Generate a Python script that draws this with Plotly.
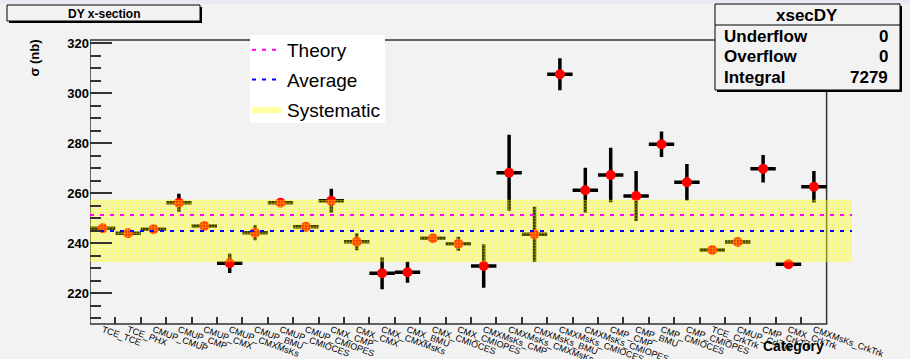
import plotly.graph_objects as go

# ---------------- data ----------------
categories = [
    "TCE_TCE", "TCE_PHX",
    "CMUP_CMUP", "CMUP_CMP", "CMUP_CMX", "CMUP_CMXMsKs", "CMUP_BMU", "CMUP_CMIOCES", "CMUP_CMIOPES",
    "CMX_CMP", "CMX_CMX", "CMX_CMXMsKs", "CMX_BMU", "CMX_CMIOCES", "CMX_CMIOPES",
    "CMXMsKs_CMP", "CMXMsKs_CMXMsKs", "CMXMsKs_BMU", "CMXMsKs_CMIOCES", "CMXMsKs_CMIOPES",
    "CMP_CMP", "CMP_BMU", "CMP_CMIOCES", "CMP_CMIOPES",
    "TCE_CrkTrk", "CMUP_CrkTrk", "CMP_CrkTrk", "CMX_CrkTrk", "CMXMsKs_CrkTrk",
]
xsec = [246.0, 244.0, 245.6, 256.2, 246.9, 232.0, 244.2, 256.2, 246.6,
        257.0, 240.6, 228.0, 228.4, 242.0, 239.8,
        230.9, 268.2, 243.6, 307.6, 261.2,
        267.3, 258.9, 279.6, 264.4,
        237.3, 240.5, 269.8, 231.6, 262.6]
xsec_err = [1.2, 1.2, 1.2, 3.6, 1.5, 3.9, 3.0, 1.5, 1.8,
            4.8, 3.4, 6.4, 4.2, 1.5, 2.8,
            8.7, 15.2, 11.0, 6.4, 9.0,
            10.9, 10.0, 5.1, 7.3,
            1.2, 1.2, 5.5, 1.5, 6.3]
theory = 251.3
average = 244.9
systematic = 12.5
stats_rows = [("Underflow", "0"), ("Overflow", "0"), ("Integral", "7279")]

# ---------------- geometry helpers (pixels -> paper) ----------------
W, H = 910, 359
ML, MR, MT, MB = 90, 58, 40, 35
PW, PH = W - ML - MR, H - MT - MB


def px(x):
    return (x - ML) / PW


def py(y):
    return (H - MB - y) / PH


n = len(categories)
xpos = list(range(n))
x_lo, x_hi = -0.5, n + 0.5
FONT = "Liberation Sans, Arial, Helvetica, sans-serif"
BG = "#f2f2f2"
FRAME = "#333333"

fig = go.Figure()

# data points
fig.add_trace(go.Scatter(
    x=xpos, y=xsec, mode="markers", showlegend=False,
    marker=dict(color="#ff0000", size=10, line=dict(width=0)),
    error_y=dict(type="data", array=xsec_err, color="black", thickness=3.5, width=0),
    error_x=dict(type="constant", value=0.5, color="black", thickness=3.5, width=0),
))

# systematic band
lo, hi = average - systematic, average + systematic
fig.add_trace(go.Scatter(
    x=[x_lo, x_hi, x_hi, x_lo, x_lo], y=[lo, lo, hi, hi, lo],
    mode="lines", fill="toself", name="Systematic", legendgroup="c", legendrank=3,
    line=dict(width=0, color="rgba(0,0,0,0)"),
    fillcolor="rgba(0,0,0,0)",
    fillpattern=dict(shape=".", fgcolor="#ffff00", bgcolor="rgba(0,0,0,0)",
                     size=3, solidity=0.75),
))

# theory / average lines
fig.add_trace(go.Scatter(
    x=[x_lo, x_hi], y=[theory, theory], mode="lines", name="Theory", legendgroup="a", legendrank=1,
    line=dict(color="#ff00ff", width=2, dash="4px,6px"),
))
fig.add_trace(go.Scatter(
    x=[x_lo, x_hi], y=[average, average], mode="lines", name="Average", legendgroup="b", legendrank=2,
    line=dict(color="#0000ff", width=2, dash="4px,6px"),
))

shapes = []
# frame
shapes.append(dict(type="rect", xref="x", yref="paper", x0=-0.5, x1=n - 0.5, y0=0, y1=1,
                   line=dict(color=FRAME, width=1.5), layer="below"))
# legend background
shapes.append(dict(type="rect", xref="paper", yref="paper", x0=px(250), x1=px(385), y0=py(35), y1=py(123),
                   fillcolor="white", line=dict(width=0), layer="above"))
# top strip
shapes.append(dict(type="rect", xref="paper", yref="paper", x0=px(0), x1=px(W), y0=py(0), y1=py(4),
                   fillcolor="#e9e9f3", line=dict(width=0), layer="above"))


def boxed(x0, y0, x1, y1, shadow=2):
    out = []
    out.append(dict(type="rect", xref="paper", yref="paper", x0=px(x0 + shadow), x1=px(x1 + shadow),
                    y0=py(y0 + shadow), y1=py(y1 + shadow), fillcolor="black", line=dict(width=0)))
    out.append(dict(type="rect", xref="paper", yref="paper", x0=px(x0), x1=px(x1),
                    y0=py(y0), y1=py(y1), fillcolor=BG, line=dict(color="black", width=1)))
    return out


# title box
shapes += boxed(7, 5, 200, 21)
# stats box
shapes += boxed(715, 4, 900, 90)
shapes.append(dict(type="line", xref="paper", yref="paper", x0=px(715), x1=px(900), y0=py(25), y1=py(25),
                   line=dict(color="black", width=1)))

annotations = [
    dict(text="<b>DY x-section</b>", x=px(103.5), y=py(13.5), xref="paper", yref="paper",
         showarrow=False, xanchor="center", yanchor="middle",
         font=dict(family=FONT, size=12, color="black")),
    dict(text="<b>xsecDY</b>", x=px(807), y=py(15), xref="paper", yref="paper",
         showarrow=False, xanchor="center", yanchor="middle",
         font=dict(family=FONT, size=17, color="black")),
    dict(text="<b>σ (nb)</b>", x=px(33.5), y=py(58), xref="paper", yref="paper", textangle=-90,
         showarrow=False, xanchor="center", yanchor="middle",
         font=dict(family=FONT, size=13, color="black")),
    dict(text="<b>Category</b>", x=px(826), y=py(346), xref="paper", yref="paper",
         showarrow=False, xanchor="right", yanchor="middle",
         font=dict(family=FONT, size=14, color="black")),
]
for i, (lab, val) in enumerate(stats_rows):
    yy = 36.5 + 20.3 * i
    annotations.append(dict(text="<b>%s</b>" % lab, x=px(722), y=py(yy), xref="paper", yref="paper",
                            showarrow=False, xanchor="left", yanchor="middle",
                            font=dict(family=FONT, size=17, color="black")))
    annotations.append(dict(text="<b>%s</b>" % val, x=px(890), y=py(yy), xref="paper", yref="paper",
                            showarrow=False, xanchor="right", yanchor="middle",
                            font=dict(family=FONT, size=17, color="black")))

fig.update_layout(
    width=W, height=H,
    margin=dict(l=ML, r=MR, t=MT, b=MB, pad=0, autoexpand=False),
    paper_bgcolor=BG, plot_bgcolor=BG,
    font=dict(family=FONT, color="black"),
    shapes=shapes, annotations=annotations,
    legend=dict(x=px(247), y=py(31), xanchor="left", yanchor="top",
                bgcolor="rgba(0,0,0,0)", borderwidth=0, itemwidth=30,
                font=dict(family=FONT, size=19, color="black"),
                traceorder="grouped", tracegroupgap=2),
    xaxis=dict(
        range=[x_lo, x_hi], showgrid=False, zeroline=False, showline=False, automargin=False,
        tickmode="array", tickvals=xpos, ticktext=categories, ticks="",
        tickangle=20, tickfont=dict(family=FONT, size=9, color="black"),
        ticklabelstandoff=-2,
        minor=dict(tickmode="array", tickvals=[i + 0.5 for i in range(n - 1)],
                   ticks="inside", ticklen=7, tickwidth=1.5, tickcolor=FRAME, showgrid=False),
    ),
    yaxis=dict(
        range=[207.7, 321.3], showgrid=False, zeroline=False, showline=False, automargin=False,
        tick0=0, dtick=20, ticks="inside", ticklen=22, tickwidth=1.5, tickcolor=FRAME,
        tickfont=dict(family=FONT, size=13, color="black", weight="bold"),
        minor=dict(tick0=0, dtick=5, ticks="inside", ticklen=11, tickwidth=1.5,
                   tickcolor=FRAME, showgrid=False),
    ),
)

fig.write_html("out.html")
